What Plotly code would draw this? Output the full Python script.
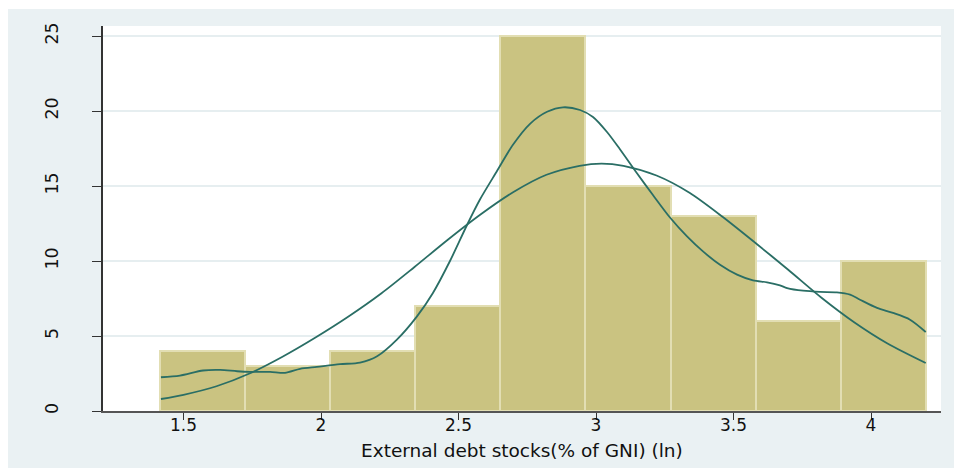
import plotly.graph_objects as go

# Histogram of ln external debt stocks (% of GNI): bin edges and frequencies
bin_edges = [1.4145, 1.7239, 2.0333, 2.3427, 2.6521, 2.9615, 3.2709, 3.5803, 3.8897, 4.1991]
frequencies = [4, 3, 4, 7, 25, 15, 13, 6, 10]

# Kernel density estimate, scaled to frequency units
kde_x = [1.418, 1.487, 1.571, 1.633, 1.695, 1.742, 1.815, 1.869, 1.924, 1.985,
         2.069, 2.142, 2.204, 2.276, 2.349, 2.407, 2.469, 2.531, 2.578, 2.640,
         2.698, 2.760, 2.822, 2.880, 2.942, 2.989, 3.040, 3.087, 3.149, 3.207,
         3.269, 3.331, 3.389, 3.451, 3.513, 3.571, 3.622, 3.669, 3.695, 3.753,
         3.815, 3.876, 3.924, 3.960, 4.022, 4.080, 4.142, 4.199]
kde_y = [2.25, 2.36, 2.70, 2.74, 2.65, 2.61, 2.61, 2.54, 2.81, 2.94,
         3.12, 3.23, 3.65, 4.76, 6.31, 7.87, 10.00, 12.40, 14.10, 16.00,
         17.75, 19.15, 19.95, 20.25, 20.07, 19.60, 18.60, 17.45, 15.85, 14.40,
         12.90, 11.64, 10.64, 9.75, 9.09, 8.71, 8.58, 8.38, 8.20, 8.02,
         7.94, 7.91, 7.76, 7.42, 6.87, 6.54, 6.09, 5.27]

# Normal density overlay, scaled to frequency units
norm_x = [1.418, 1.50, 1.62, 1.74, 1.86, 1.98, 2.10, 2.22, 2.34, 2.46,
          2.58, 2.70, 2.82, 2.94, 3.02, 3.10, 3.22, 3.34, 3.46, 3.58,
          3.70, 3.82, 3.94, 4.06, 4.199]
norm_y = [0.80, 1.08, 1.65, 2.50, 3.62, 4.90, 6.30, 7.85, 9.60, 11.40,
          13.10, 14.60, 15.75, 16.35, 16.50, 16.35, 15.70, 14.55, 12.95, 11.20,
          9.40, 7.55, 5.90, 4.50, 3.20]

x_ticks = [1.5, 2, 2.5, 3, 3.5, 4]
x_tick_text = ["1.5", "2", "2.5", "3", "3.5", "4"]
y_ticks = [0, 5, 10, 15, 20, 25]
y_tick_text = ["0", "5", "10", "15", "20", "25"]
x_title = "External debt stocks(% of GNI) (ln)"

centers = [(a + b) / 2 for a, b in zip(bin_edges[:-1], bin_edges[1:])]
widths = [b - a for a, b in zip(bin_edges[:-1], bin_edges[1:])]

W, H = 954, 468
M_L, M_R, M_T, M_B = 103, 13, 26, 57
plot_w = W - M_L - M_R
plot_h = H - M_T - M_B

BG = "#EAF1F3"
BAR = "#CAC381"
BAR_EDGE = "#E2DEB3"
CURVE = "#2A6E65"
FONT = "DejaVu Sans"

fig = go.Figure()
fig.add_trace(go.Bar(x=centers, y=frequencies, width=widths,
                     marker=dict(color=BAR, line=dict(color=BAR_EDGE, width=2)),
                     hoverinfo="skip"))
fig.add_trace(go.Scatter(x=norm_x, y=norm_y, mode="lines",
                         line=dict(color=CURVE, width=1.8, shape="spline", smoothing=0.8),
                         hoverinfo="skip"))
fig.add_trace(go.Scatter(x=kde_x, y=kde_y, mode="lines",
                         line=dict(color=CURVE, width=1.8, shape="spline", smoothing=0.8),
                         hoverinfo="skip"))

# white page strip along the top and left edge around the graph region
top_strip_y0 = (plot_h + M_T - 9) / plot_h
left_strip_x1 = (8 - M_L) / plot_w
fig.add_shape(type="rect", xref="paper", yref="paper", x0=-1, x1=2,
              y0=top_strip_y0, y1=2, fillcolor="white", line_width=0, layer="below")
fig.add_shape(type="rect", xref="paper", yref="paper", x0=-1, x1=left_strip_x1,
              y0=-1, y1=2, fillcolor="white", line_width=0, layer="below")

# x-axis title, placed just under the tick labels
fig.add_annotation(text=x_title, xref="paper", yref="paper", x=0.5,
                   y=-27 / plot_h, xanchor="center", yanchor="top",
                   showarrow=False, font=dict(size=18.5, family=FONT, color="#111111"))

fig.update_layout(
    width=W, height=H,
    margin=dict(l=M_L, r=M_R, t=M_T, b=M_B, pad=0),
    paper_bgcolor=BG, plot_bgcolor="white",
    showlegend=False, bargap=0,
    font=dict(family=FONT, color="#111111"),
)
fig.update_xaxes(
    range=[2 + (M_L - 321) / 275, 2 + (W - M_R - 321) / 275],
    tickmode="array", tickvals=x_ticks, ticktext=x_tick_text,
    ticks="outside", ticklen=7, tickwidth=1.3, tickcolor="#333333",
    tickfont=dict(size=17, family=FONT),
    ticklabelstandoff=-9,
    showline=True, linecolor="#555555", linewidth=1.5,
    showgrid=False, zeroline=False,
)
fig.update_yaxes(
    range=[0, 25.67],
    tickmode="array", tickvals=y_ticks, ticktext=y_tick_text,
    ticks="outside", ticklen=9, tickwidth=1.3, tickcolor="#333333",
    tickangle=-90, tickfont=dict(size=17.5, family=FONT),
    ticklabelstandoff=27,
    showline=True, linecolor="#333333", linewidth=1.5,
    showgrid=True, gridcolor="#E6EEF0", gridwidth=1.5,
    zeroline=False,
)

fig.write_html("out.html")
